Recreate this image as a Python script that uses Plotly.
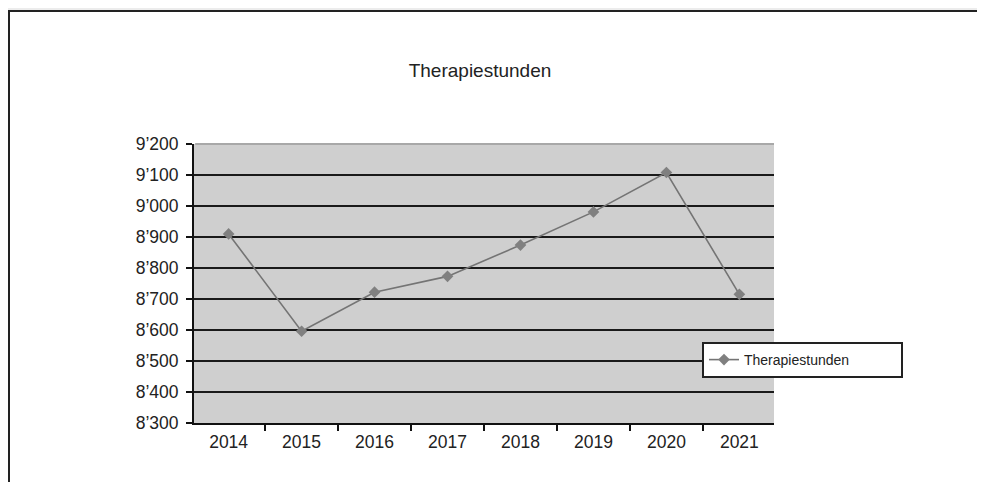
import plotly.graph_objects as go

years = ["2014", "2015", "2016", "2017", "2018", "2019", "2020", "2021"]
therapiestunden = [8910, 8596, 8722, 8773, 8874, 8981, 9108, 8715]
ytick_values = [8300, 8400, 8500, 8600, 8700, 8800, 8900, 9000, 9100, 9200]
ytick_labels = ["8’300", "8’400", "8’500", "8’600", "8’700", "8’800", "8’900", "9’000", "9’100", "9’200"]

# page body has an 8px margin: figure origin sits at screen (8, 8)
OFF = 8
W, H = 985 - OFF, 482 - OFF
L, T = 194 - OFF, 144 - OFF
R, B = W - (774 - OFF), H - (423 - OFF)
pw, ph = W - L - R, H - T - B

def px_x(x):
    return (x - OFF - L) / pw

def px_y(y):
    return 1 - (y - OFF - T) / ph

FONT = "Liberation Sans, Arial, sans-serif"

fig = go.Figure()
fig.add_trace(go.Scatter(
    x=years, y=therapiestunden, mode="lines+markers", name="Therapiestunden",
    line=dict(color="#747474", width=1.6),
    marker=dict(symbol="diamond", size=9, color="#808080"),
))

shapes = [
    # white chart frame
    dict(type="rect", xref="paper", yref="paper", layer="below",
         x0=px_x(9), x1=px_x(1000), y0=px_y(500), y1=px_y(11),
         fillcolor="white", line=dict(color="#222222", width=2)),
    # grey plot area
    dict(type="rect", xref="paper", yref="paper", layer="below",
         x0=0, x1=1, y0=0, y1=1, fillcolor="#cfcfcf", line=dict(width=0)),
    # light top border of plot area
    dict(type="line", xref="paper", yref="paper", layer="above",
         x0=0.002, x1=1, y0=1, y1=1, line=dict(color="#a8a8a8", width=2)),
]

fig.update_layout(
    width=W, height=H,
    margin=dict(l=L, r=R, t=T, b=B, pad=0),
    paper_bgcolor="#ececec",
    plot_bgcolor="rgba(0,0,0,0)",
    shapes=shapes,
    title=dict(text="Therapiestunden", xref="container", x=(480 - OFF) / W, xanchor="center",
               y=1 - (70 - OFF) / H, yanchor="middle",
               font=dict(family=FONT, size=19, color="#222222")),
    font=dict(family=FONT, color="#222222"),
    showlegend=True,
    legend=dict(x=px_x(702), y=px_y(342), xanchor="left", yanchor="top",
                orientation="h",
                bgcolor="white", bordercolor="#222222", borderwidth=2,
                font=dict(family=FONT, size=14, color="#222222"),
                entrywidth=152, itemwidth=30, tracegroupgap=0),
    xaxis=dict(type="category", categoryorder="array", categoryarray=years,
               showgrid=False, showline=True, linecolor="#111111", linewidth=2,
               ticks="outside", tickson="boundaries", ticklen=6, tickwidth=1.5,
               tickcolor="#111111", ticklabelstandoff=2,
               tickfont=dict(family=FONT, size=17.5, color="#222222"),
               zeroline=False),
    yaxis=dict(range=[8300, 9200], tickvals=ytick_values, ticktext=ytick_labels,
               showgrid=True, gridcolor="#1a1a1a", gridwidth=2,
               showline=True, linecolor="#111111", linewidth=2,
               ticks="outside", ticklen=6, tickwidth=1.5, tickcolor="#111111",
               ticklabelstandoff=4,
               tickfont=dict(family=FONT, size=17.5, color="#222222"),
               zeroline=False),
)

fig.write_html("out.html")
